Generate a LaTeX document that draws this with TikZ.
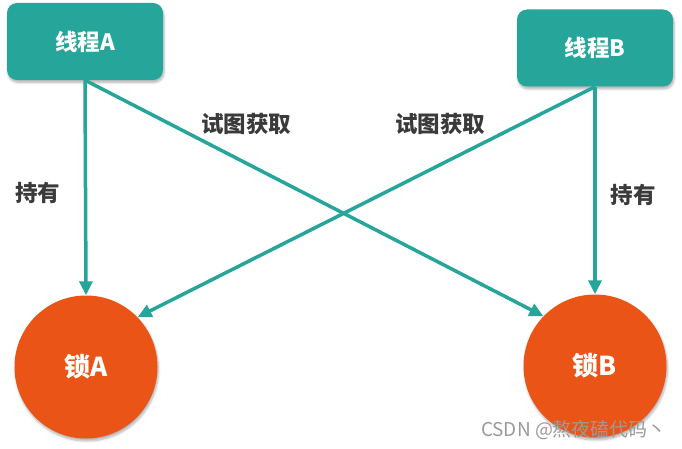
\documentclass[tikz,border=0pt]{standalone}
\usepackage{fontspec}
\setmainfont{Noto Sans CJK SC}
\usetikzlibrary{arrows.meta,shadows.blur}
\definecolor{teal1}{HTML}{26A69A}
\definecolor{orng}{HTML}{EB5417}
\definecolor{txt}{HTML}{3A3A3A}
\definecolor{wm}{HTML}{9A9A9A}
\tikzset{
  thread/.style={draw=none, fill=teal1, rounded corners=10pt, minimum width=156pt, minimum height=77pt, inner sep=0pt, text=white, font=\fontsize{22.5}{26}\selectfont\bfseries, blur shadow={shadow xshift=1pt, shadow yshift=-2.5pt, shadow opacity=30, shadow blur steps=6}},
  lock/.style={circle, draw=none, fill=orng, minimum size=143pt, inner sep=0pt, text=white, font=\fontsize{26}{30}\selectfont\bfseries, blur shadow={shadow xshift=1pt, shadow yshift=-2.5pt, shadow opacity=30, shadow blur steps=6}},
  lbl/.style={text=txt, font=\fontsize{22.5}{26}\selectfont\bfseries, inner sep=0pt},
  conn/.style={draw=teal1, line width=3.5pt, -{Triangle[length=14pt,width=13pt]}}
}
\begin{document}
\begin{tikzpicture}[x=1pt,y=-1pt]
\useasboundingbox (0,0) rectangle (682,449);
\node[thread] (ta) at (85,41.5) {线程A};
\node[thread] (tb) at (595,48) {线程B};
\node[lock] (la) at (86,367) {锁A};
\node[lock] (lb) at (595,366) {锁B};
\node[lbl] (h1) at (38,193) {持有};
\node[lbl] (h2) at (633,195) {持有};
\node[lbl] (g1) at (246,124) {试图获取};
\node[lbl] (g2) at (440,124) {试图获取};
\draw[conn] (ta.south) -- (la.north);
\draw[conn] (tb.south) -- (lb.north);
\draw[conn] (ta.south) -- (lb.136);
\draw[conn] (tb.south) -- (la.44);
\node[text=wm, font=\fontsize{19}{22}\selectfont, inner sep=0pt] (wmk) at (574,430) {CSDN @熬夜磕代码丶};
\end{tikzpicture}
\end{document}
